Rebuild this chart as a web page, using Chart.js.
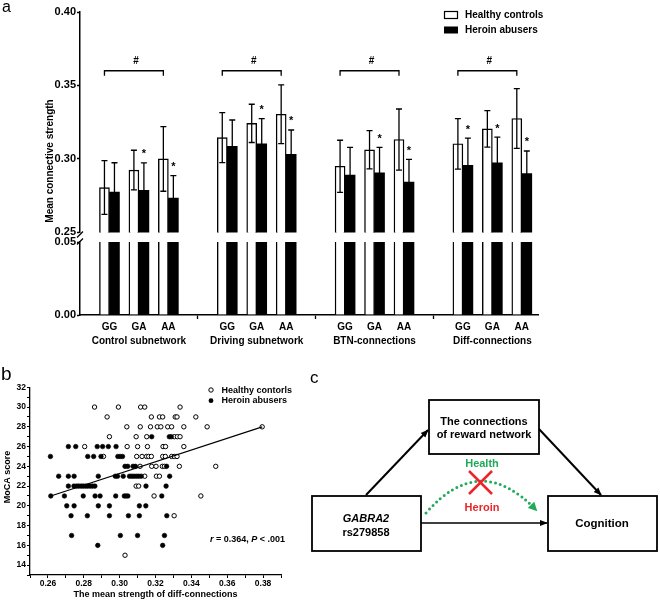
<!DOCTYPE html>
<html lang="en">
<head>
<meta charset="UTF-8">
<title>GABRA2 rs279858 and reward network</title>
<script src="https://cdn.jsdelivr.net/npm/chart.js"></script>
<style>
  body { margin: 0; background: #fff; }
  #fig { position: relative; width: 660px; height: 606px; overflow: hidden; }
  #fig canvas, #fig svg { position: absolute; }
</style>
</head>
<body>
<div id="fig">
  <canvas id="barTop" width="560" height="240" style="left:0;top:0"></canvas>
  <canvas id="barBottom" width="560" height="130" style="left:0;top:226px"></canvas>
  <canvas id="scatter" width="300" height="246" style="left:0;top:360px"></canvas>
  <svg width="660" height="606" style="left:0;top:0" font-family='"Liberation Sans", Arial, sans-serif'>
    <defs>
      <marker id="ah" viewBox="0 0 10 10" refX="9" refY="5" markerWidth="8" markerHeight="8" markerUnits="userSpaceOnUse" orient="auto">
        <path d="M0,1 L10,5 L0,9 z" fill="#000"/>
      </marker>
      <marker id="ahg" viewBox="0 0 10 10" refX="8" refY="5" markerWidth="9" markerHeight="9" markerUnits="userSpaceOnUse" orient="auto">
        <path d="M0,0 L10,5 L0,10 z" fill="#22aa5a"/>
      </marker>
    </defs>
    <text x="2" y="12" font-size="16">a</text>
    <text x="1" y="380" font-size="19">b</text>
    <text x="310" y="383" font-size="17">c</text>

    <g fill="none" stroke="#000" stroke-width="1.8">
      <rect x="429" y="400" width="110" height="54"/>
      <rect x="312" y="496" width="109" height="55"/>
      <rect x="548" y="496" width="109" height="55"/>
    </g>
    <g stroke="#000">
      <line x1="366" y1="495" x2="428" y2="430" stroke-width="2" marker-end="url(#ah)"/>
      <line x1="539" y1="429" x2="601" y2="495" stroke-width="2" marker-end="url(#ah)"/>
      <line x1="421" y1="523" x2="547" y2="523" stroke-width="1.5" marker-end="url(#ah)"/>
    </g>
    <path d="M426,513 Q480,451 536,510" fill="none" stroke="#22aa5a" stroke-width="3" stroke-dasharray="0 5" stroke-linecap="round" marker-end="url(#ahg)"/>
    <g stroke="#e8262b" stroke-width="2.5">
      <line x1="469" y1="471" x2="492" y2="494"/>
      <line x1="492" y1="471" x2="469" y2="494"/>
    </g>
    <g font-weight="bold" font-size="11" text-anchor="middle">
      <text x="484" y="425">The connections</text>
      <text x="484" y="438">of reward network</text>
      <text x="366" y="521.5" font-style="italic">GABRA2</text>
      <text x="366" y="535.5">rs279858</text>
      <text x="602" y="527" font-size="11.5">Cognition</text>
      <text x="482" y="467" fill="#1faa59">Health</text>
      <text x="482" y="511" fill="#e8262b">Heroin</text>
    </g>
  </svg>
</div>

<script>
  // ---- panel a: mean connective strength (mean and SD per genotype) ----
  const groups = ['Control subnetwork', 'Driving subnetwork', 'BTN-connections', 'Diff-connections'];
  const genotypes = ['GG', 'GA', 'AA'];
  const hcMean = [0.2805, 0.2924, 0.3000, 0.3145, 0.3242, 0.3304, 0.2950, 0.3062, 0.3132, 0.3103, 0.3205, 0.3275];
  const haMean = [0.2774, 0.2787, 0.2734, 0.3085, 0.3103, 0.3031, 0.2890, 0.2906, 0.2843, 0.2957, 0.2973, 0.2901];
  const hcSD = [0.0183, 0.0135, 0.0220, 0.0170, 0.0130, 0.0200, 0.0177, 0.0130, 0.0208, 0.0172, 0.0124, 0.0203];
  const haSD = [0.0200, 0.0186, 0.0152, 0.0180, 0.0172, 0.0166, 0.0188, 0.0172, 0.0154, 0.0184, 0.0175, 0.0153];
  const sig = [false, true, true, false, true, true, false, true, true, true, true, true];

  // ---- panel b: MoCA score vs mean strength of diff-connections ----
  const hcX = [0.2860, 0.2993, 0.3117, 0.3140, 0.3337,
    0.2930, 0.3177, 0.3222, 0.3240, 0.3310, 0.3320, 0.3425,
    0.3040, 0.3115, 0.3172, 0.3210, 0.3230, 0.3268, 0.3290, 0.3358, 0.3488, 0.3795,
    0.2943, 0.3092, 0.3151, 0.3305, 0.3322, 0.3337,
    0.2805, 0.3042, 0.3100, 0.3155, 0.3242, 0.3256, 0.3358,
    0.2910, 0.3095, 0.3125, 0.3150, 0.3162, 0.3177, 0.3240, 0.3255, 0.3290, 0.3305, 0.3320,
    0.3114, 0.3179, 0.3203, 0.3238, 0.3250, 0.3333, 0.3536,
    0.3140, 0.3205, 0.3222,
    0.3092, 0.3106,
    0.3192, 0.3453,
    0.3304,
    0.3030];
  const hcScore = [30, 30, 30, 30, 30,
    29, 29, 29, 29, 29, 29, 29,
    28, 28, 28, 28, 28, 28, 28, 28, 28, 28,
    27, 27, 27, 27, 27, 27,
    26, 26, 26, 26, 26, 26, 26,
    25, 25, 25, 25, 25, 25, 25, 25, 25, 25, 25,
    24, 24, 24, 24, 24, 24, 24,
    23, 23, 23,
    22, 22,
    21, 21,
    19,
    15];
  const haX = [0.3179, 0.3277, 0.3288,
    0.2714, 0.2755, 0.2875, 0.2905, 0.2937, 0.2980,
    0.2614, 0.2822, 0.2855, 0.2896, 0.2990, 0.3003, 0.3016,
    0.3030, 0.3045, 0.3075, 0.3088, 0.3262,
    0.2660, 0.2714, 0.2746, 0.2881, 0.2976, 0.2988, 0.3020, 0.3055, 0.3068, 0.3080, 0.3093, 0.3106, 0.3120, 0.3279,
    0.2714, 0.2745, 0.2760, 0.2772, 0.2785, 0.2797, 0.2810, 0.2822, 0.2835, 0.2848, 0.2862, 0.3147, 0.3259,
    0.2616, 0.2692, 0.2797, 0.2863, 0.2891, 0.2978, 0.3026, 0.3036, 0.3046, 0.3235,
    0.2705, 0.2746, 0.2881, 0.2943, 0.3110, 0.3146,
    0.2729, 0.2820, 0.2943, 0.3049, 0.3110, 0.3263,
    0.2732, 0.3004, 0.3100, 0.3250,
    0.2878, 0.3240];
  const haScore = [27, 27, 27,
    26, 26, 26, 26, 26, 26,
    25, 25, 25, 25, 25, 25, 25,
    24, 24, 24, 24, 24,
    23, 23, 23, 23, 23, 23, 23, 23, 23, 23, 23, 23, 23, 23,
    22, 22, 22, 22, 22, 22, 22, 22, 22, 22, 22, 22, 22,
    21, 21, 21, 21, 21, 21, 21, 21, 21, 21,
    20, 20, 20, 20, 20, 20,
    19, 19, 19, 19, 19, 19,
    17, 17, 17, 17,
    16, 16];
  const fitX = [0.2616, 0.3795];
  const fitY = [21.0, 28.0];

  const FONT = '"Liberation Sans", Arial, sans-serif';
  Chart.defaults.font.family = FONT;
  Chart.defaults.font.weight = 'bold';
  Chart.defaults.color = '#000';
  Chart.defaults.animation = false;

  // genotype i -> slot on the x axis, one empty slot between subnetworks
  const slotX = i => Math.floor(i / genotypes.length) * (genotypes.length + 1) + (i % genotypes.length) + 1;
  const nSlots = groups.length * (genotypes.length + 1) - 1;
  const slots = [];
  for (let s = 1; s <= nSlots; s++) slots.push(s);
  const slotLabel = v => (v % 4 === 0) ? '' : genotypes[(v - 1) % 4];

  function barDatasets() {
    return [
      { label: 'Healthy controls', data: hcMean.map((v, i) => ({ x: slotX(i), y: v })),
        backgroundColor: '#fff', borderColor: '#000', borderWidth: 1.4, barThickness: 10, clip: 0 },
      { label: 'Heroin abusers', data: haMean.map((v, i) => ({ x: slotX(i), y: v })),
        backgroundColor: '#000', borderColor: '#000', borderWidth: 0, barThickness: 10, clip: 0 }
    ];
  }

  function xAxis(show) {
    return {
      type: 'linear', min: 0, max: 15.55, offset: false, display: show,
      afterBuildTicks: s => { s.ticks = slots.map(v => ({ value: v })); },
      afterFit: s => { if (show) s.height = 41; },
      grid: { offset: false, drawOnChartArea: false, tickLength: 4, tickWidth: 1.3,
              tickColor: c => (c.tick && c.tick.value % 4 === 0) ? '#000' : 'rgba(0,0,0,0)' },
      border: { color: '#000', width: 1.5 },
      ticks: { autoSkip: false, maxRotation: 0, padding: 2, font: { size: 10, weight: 'bold' },
               callback: v => slotLabel(v) }
    };
  }

  function yAxis(min, max) {
    return {
      min: min, max: max,
      afterFit: s => { s.width = 80; },
      ticks: { stepSize: 0.05, padding: 1, font: { size: 11, weight: 'bold' }, callback: v => v.toFixed(2) },
      grid: { drawOnChartArea: false, tickLength: 3, tickWidth: 1.3, tickColor: '#000' },
      border: { color: '#000', width: 1.5 }
    };
  }

  // error bars, asterisks, # brackets, legend and y title for the upper part
  const topDeco = {
    id: 'topDeco',
    afterDatasetsDraw(chart) {
      const { ctx, chartArea: a, scales: { x, y } } = chart;
      ctx.save();
      ctx.beginPath();
      ctx.rect(a.left, a.top - 2, a.right - a.left, a.bottom - a.top + 2);
      ctx.clip();
      ctx.strokeStyle = '#000';
      ctx.lineWidth = 1.3;
      [[0, hcMean, hcSD], [1, haMean, haSD]].forEach(([di, mean, sd]) => {
        chart.getDatasetMeta(di).data.forEach((bar, i) => {
          const top = y.getPixelForValue(mean[i] + sd[i]);
          const bot = y.getPixelForValue(mean[i] - sd[i]);
          ctx.beginPath();
          ctx.moveTo(bar.x, top); ctx.lineTo(bar.x, bot);
          ctx.moveTo(bar.x - 3, top); ctx.lineTo(bar.x + 3, top);
          ctx.moveTo(bar.x - 3, bot); ctx.lineTo(bar.x + 3, bot);
          ctx.stroke();
        });
      });
      ctx.restore();

      ctx.save();
      ctx.fillStyle = '#000';
      ctx.textAlign = 'center';
      ctx.font = 'bold 11px ' + FONT;
      const black = chart.getDatasetMeta(1).data;
      sig.forEach((s, i) => {
        if (!s) return;
        const yTop = y.getPixelForValue(haMean[i] + haSD[i]);
        ctx.fillText('*', black[i].x, yTop - 12 + 6.4);
      });

      // brackets with #
      ctx.strokeStyle = '#000';
      ctx.lineWidth = 1.3;
      const by = y.getPixelForValue(0.36);
      groups.forEach((g, gi) => {
        const x1 = x.getPixelForValue(gi * 4 + 1) - 5;
        const x2 = x.getPixelForValue(gi * 4 + 3) - 5;
        ctx.beginPath();
        ctx.moveTo(x1, by + 5); ctx.lineTo(x1, by); ctx.lineTo(x2, by); ctx.lineTo(x2, by + 5);
        ctx.stroke();
        ctx.font = 'bold 10px ' + FONT;
        ctx.fillText('#', (x1 + x2) / 2 + 2, by - 6.5);
      });

      // legend
      ctx.lineWidth = 1.2;
      ctx.fillStyle = '#fff';
      ctx.fillRect(444.5, 11.5, 13, 7);
      ctx.strokeRect(444.5, 11.5, 13, 7);
      ctx.fillStyle = '#000';
      ctx.fillRect(444, 26.5, 14, 7);
      ctx.textAlign = 'left';
      ctx.textBaseline = 'middle';
      ctx.font = 'bold 10px ' + FONT;
      ctx.fillText('Healthy controls', 465, 15.5);
      ctx.fillText('Heroin abusers', 465, 30.5);

      // y title
      ctx.translate(53, 161);
      ctx.rotate(-Math.PI / 2);
      ctx.textAlign = 'center';
      ctx.textBaseline = 'alphabetic';
      ctx.fillText('Mean connective strength', 0, 0);
      ctx.restore();
    }
  };

  const bottomDeco = {
    id: 'bottomDeco',
    afterDraw(chart) {
      const { ctx, scales: { x } } = chart;
      ctx.save();
      ctx.font = 'bold 10px ' + FONT;
      ctx.fillStyle = '#000';
      ctx.textAlign = 'center';
      ctx.textBaseline = 'middle';
      groups.forEach((g, gi) => ctx.fillText(g, x.getPixelForValue(gi * 4 + 2), 115));
      // axis break marks
      ctx.strokeStyle = '#000';
      ctx.lineWidth = 1.3;
      [8.5, 15.5].forEach(yy => {
        ctx.beginPath(); ctx.moveTo(77, yy + 3); ctx.lineTo(83, yy - 3); ctx.stroke();
      });
      ctx.restore();
    }
  };

  new Chart(document.getElementById('barTop'), {
    type: 'bar',
    data: { datasets: barDatasets() },
    options: {
      responsive: false,
      layout: { padding: { left: 0, right: 22, top: 12, bottom: 5.2 } },
      plugins: { legend: { display: false }, tooltip: { enabled: false } },
      scales: { x: xAxis(false), y: yAxis(0.25, 0.40) }
    },
    plugins: [topDeco]
  });

  new Chart(document.getElementById('barBottom'), {
    type: 'bar',
    data: { datasets: barDatasets() },
    options: {
      responsive: false,
      layout: { padding: { left: 0, right: 22, top: 16, bottom: 0 } },
      plugins: { legend: { display: false }, tooltip: { enabled: false } },
      scales: { x: xAxis(true), y: yAxis(0, 0.05) }
    },
    plugins: [bottomDeco]
  });

  // ---- panel b ----
  const scatterDeco = {
    id: 'scatterDeco',
    afterDraw(chart) {
      const { ctx } = chart;
      ctx.save();
      ctx.fillStyle = '#000';
      ctx.strokeStyle = '#000';
      ctx.font = 'bold 9px ' + FONT;
      ctx.textAlign = 'center';
      ctx.fillText('The mean strength of diff-connections', 155.5, 237);
      ctx.save();
      ctx.translate(10, 117);
      ctx.rotate(-Math.PI / 2);
      ctx.fillText('MoCA score', 0, 0);
      ctx.restore();

      // legend
      ctx.lineWidth = 1;
      ctx.beginPath(); ctx.arc(211, 30, 2.2, 0, Math.PI * 2); ctx.fillStyle = '#fff'; ctx.fill(); ctx.stroke();
      ctx.beginPath(); ctx.arc(211, 40.7, 2.4, 0, Math.PI * 2); ctx.fillStyle = '#000'; ctx.fill();
      ctx.textAlign = 'left';
      ctx.textBaseline = 'middle';
      ctx.fillText('Healthy contorls', 221.5, 30.5);
      ctx.fillText('Heroin abusers', 221.5, 41);

      // correlation note
      ctx.textBaseline = 'alphabetic';
      let tx = 210;
      [['r', 'italic bold'], [' = 0.364, ', 'bold'], ['P', 'italic bold'], [' < .001', 'bold']].forEach(([t, st]) => {
        ctx.font = st + ' 9px ' + FONT;
        ctx.fillText(t, tx, 182);
        tx += ctx.measureText(t).width;
      });
      ctx.restore();
    }
  };

  new Chart(document.getElementById('scatter'), {
    type: 'scatter',
    data: {
      datasets: [
        { label: 'fit', data: fitX.map((x, i) => ({ x: x, y: fitY[i] })), showLine: true,
          borderColor: '#000', borderWidth: 1.2, pointRadius: 0 },
        { label: 'Heroin abusers', data: haX.map((x, i) => ({ x: x, y: haScore[i] })),
          pointRadius: 2.3, backgroundColor: '#000', borderColor: '#000', borderWidth: 0.6 },
        { label: 'Healthy contorls', data: hcX.map((x, i) => ({ x: x, y: hcScore[i] })),
          pointRadius: 2.2, backgroundColor: '#fff', borderColor: '#000', borderWidth: 1 }
      ]
    },
    options: {
      responsive: false,
      layout: { padding: { left: 0, right: 19, top: 27.3, bottom: 0 } },
      plugins: { legend: { display: false }, tooltip: { enabled: false } },
      scales: {
        x: {
          type: 'linear', min: 0.25, max: 0.39,
          afterFit: s => { s.height = 31; },
          ticks: { stepSize: 0.01, autoSkip: false, maxRotation: 0, padding: 1, font: { size: 8.5, weight: 'bold' },
                   callback: v => { const h = Math.round(v * 100); return (h % 2 === 0 && h >= 26 && h <= 38) ? (h / 100).toFixed(2) : ''; } },
          grid: { drawOnChartArea: false, tickLength: 3, tickWidth: 1, tickColor: '#000' },
          border: { color: '#000', width: 1.3 }
        },
        y: {
          min: 13, max: 32,
          afterFit: s => { s.width = 30; },
          ticks: { stepSize: 1, autoSkip: false, padding: 1, font: { size: 8.5, weight: 'bold' },
                   callback: v => (Math.round(v) % 2 === 0) ? String(Math.round(v)) : '' },
          grid: { drawOnChartArea: false, tickLength: 3, tickWidth: 1, tickColor: '#000' },
          border: { color: '#000', width: 1.3 }
        }
      }
    },
    plugins: [scatterDeco]
  });
</script>
</body>
</html>
